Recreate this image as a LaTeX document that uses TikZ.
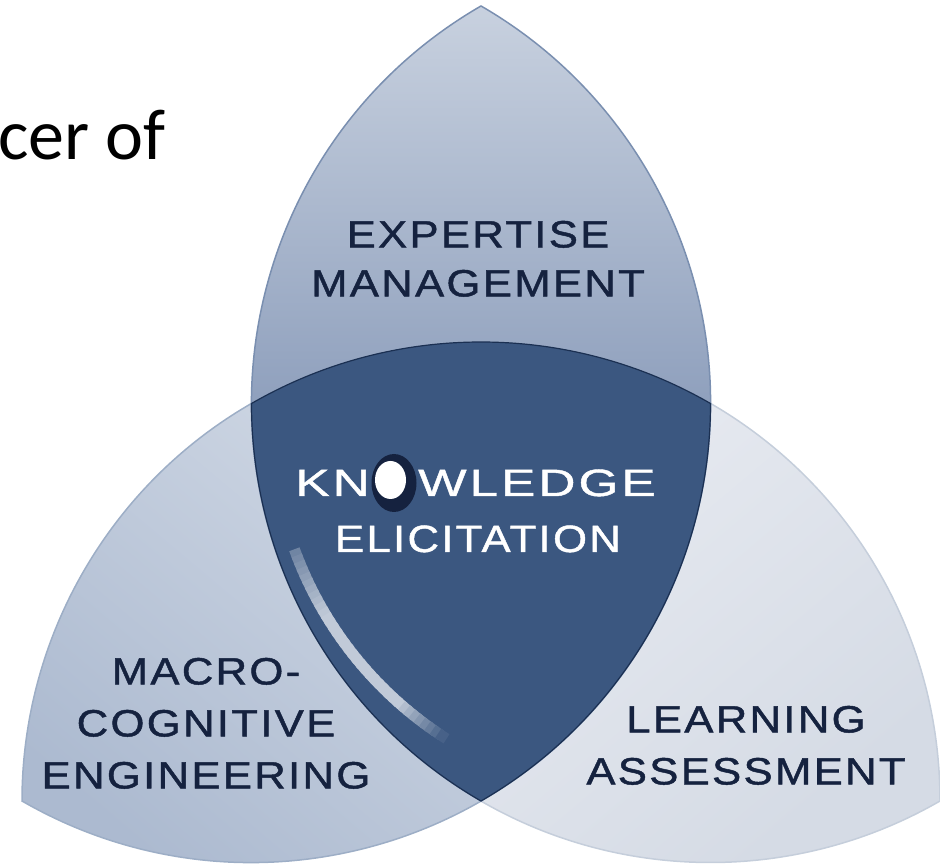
\documentclass[tikz,border=0pt]{standalone}
\usepackage{fontspec}
\newfontfamily\labelfont[FakeStretch=1.15,LetterSpace=6,FakeBold=1.2]{Liberation Sans}
\newfontfamily\wordfont[FakeStretch=1.35,LetterSpace=8,FakeBold=1.2]{Liberation Sans}
\newfontfamily\slidefont{Carlito}
\usepackage{xcolor}
\definecolor{colorNavy}{HTML}{15223F}
\definecolor{colorCore}{HTML}{3B5780}
\definecolor{colorCoreLine}{HTML}{1B3052}
\definecolor{colorGlow}{HTML}{D3DAE4}
\definecolor{colorTopA}{HTML}{C8D1DF}
\definecolor{colorTopM}{HTML}{8FA0BD}
\definecolor{colorTopB}{HTML}{6F84A8}
\definecolor{colorTopLine}{HTML}{7A8FB0}
\definecolor{colorLeftA}{HTML}{DDE3EC}
\definecolor{colorLeftB}{HTML}{ACBAD0}
\definecolor{colorLeftLine}{HTML}{9DAEC6}
\definecolor{colorRightA}{HTML}{EEF0F5}
\definecolor{colorRightB}{HTML}{D5DBE5}
\definecolor{colorRightLine}{HTML}{C5CEDB}
\usepackage{tikz}
\newcommand{\lensR}{459pt}

\begin{document}
\begin{tikzpicture}[x=1pt, y=1pt,
  lbl/.style={font=\labelfont\fontsize{38}{52}\selectfont, text=colorNavy, align=center, inner sep=0pt, anchor=south},
  core lbl/.style={font=\labelfont\fontsize{38}{52}\selectfont, text=white, inner sep=0pt},
  word lbl/.style={font=\wordfont\fontsize{38}{52}\selectfont, text=white, inner sep=0pt}]
\useasboundingbox (0,0) rectangle (940,865);
% lens tips
\coordinate (B) at (481,64);
\coordinate (C) at (710.5,461.5);
\coordinate (D) at (251.5,461.5);
\coordinate (L) at (22,64);
\coordinate (R) at (940,64);
\coordinate (T) at (481,859);
\coordinate (S) at (649.6,445);

% the three lenses
\draw[line width=1.5pt, draw=colorLeftLine, top color=colorLeftA, bottom color=colorLeftB, shading angle=-40]
  (C) arc[start angle=60, end angle=180, radius=\lensR]
      arc[start angle=240, end angle=360, radius=\lensR] -- cycle;
\draw[line width=1.5pt, draw=colorRightLine, top color=colorRightA, bottom color=colorRightB, shading angle=40]
  (R) arc[start angle=0, end angle=120, radius=\lensR]
      arc[start angle=180, end angle=300, radius=\lensR] -- cycle;
\draw[line width=1.5pt, draw=colorTopLine, top color=colorTopA, bottom color=colorTopB, middle color=colorTopM]
  (B) arc[start angle=-60, end angle=60, radius=\lensR]
      arc[start angle=120, end angle=240, radius=\lensR] -- cycle;

% core
\draw[line width=1.2pt, draw=colorCoreLine, fill=colorCore]
  (C) arc[start angle=60, end angle=120, radius=\lensR]
      arc[start angle=180, end angle=240, radius=\lensR]
      arc[start angle=300, end angle=360, radius=\lensR] -- cycle;

% glow
\foreach \a in {200,...,236} {
  \pgfmathsetmacro{\pct}{max(0,min(88,min(35+(\a-200)*5,88-(\a-228)*10)))}
  \draw[line width=11pt, draw=colorGlow!\pct!colorCore]
    ([shift={(\a:378)}]S) arc[start angle=\a, end angle=\a+1.5, radius=378];
}

% the O
\fill[colorNavy] (394,382) ellipse [x radius=22.5, y radius=29];
\fill[white] (390.5,385) ellipse [x radius=15.5, y radius=19];

\node[word lbl, anchor=base east] (kn) at (370,369) {KN};
\node[word lbl, anchor=base west] (wledge) at (418,369) {WLEDGE};
\node[core lbl, anchor=base] (elicit) at (478,313) {ELICITATION};

\node[lbl, font=\labelfont\fontsize{38}{49}\selectfont] (expertise) at (478,568) {EXPERTISE\\MANAGEMENT};
\node[lbl] (macro) at (206,76) {MACRO-\\COGNITIVE\\ENGINEERING};
\node[lbl] (learning) at (746,80) {LEARNING\\ASSESSMENT};

\node[font=\slidefont\fontsize{72}{80}\selectfont, anchor=base east, inner sep=0pt] (slide) at (166,705) {cer of};
\end{tikzpicture}
\end{document}
